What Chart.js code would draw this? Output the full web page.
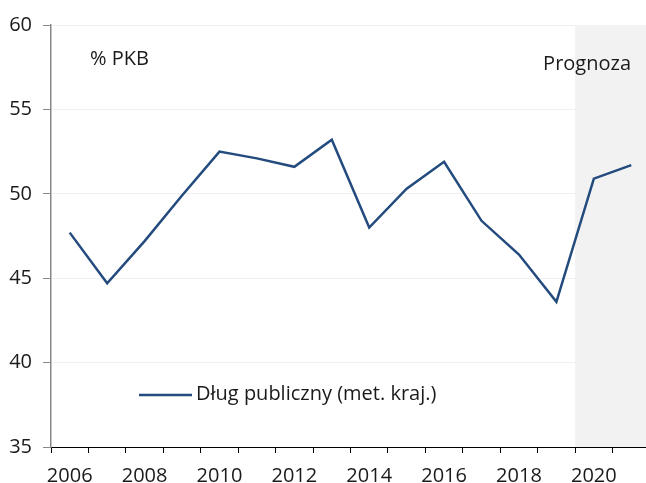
<!DOCTYPE html>
<html lang="pl">
<head>
<meta charset="utf-8">
<title>Dług publiczny</title>
<script src="https://cdn.jsdelivr.net/npm/chart.js@4.4.1/dist/chart.umd.min.js"></script>
<style>
    html, body { margin: 0; padding: 0; background: #fff; overflow: hidden; }
    #kontener { width: 650px; height: 483px; }
</style>
</head>
<body>
<div id="kontener"><canvas id="wykres" width="650" height="483"></canvas></div>
<script>
// lata i dług publiczny (% PKB, metodologia krajowa)
const lata = ['2006', '2007', '2008', '2009', '2010', '2011', '2012', '2013',
              '2014', '2015', '2016', '2017', '2018', '2019', '2020', '2021'];
const dlug = [47.7, 44.7, 47.2, 49.9, 52.5, 52.1, 51.6, 53.2,
              48.0, 50.3, 51.9, 48.4, 46.4, 43.6, 50.9, 51.7];
const ticksY = [35, 40, 45, 50, 55, 60];
const prognozaOd = '2020';

const czcionka = '"Open Sans"';
const kolorLinii = '#234b7e';

// szare tło dla lat prognozy + opisy
const tloPrognozy = {
    id: 'tloPrognozy',
    beforeDatasetsDraw(chart) {
        let ctx = chart.ctx;
        let x = chart.scales.x;
        let area = chart.chartArea;
        let i = lata.indexOf(prognozaOd);
        let start = (x.getPixelForValue(i - 1) + x.getPixelForValue(i)) / 2;
        ctx.save();
        ctx.fillStyle = '#f2f2f2';
        ctx.fillRect(start, area.top, area.right - start, area.bottom - area.top);
        ctx.restore();
    },
    afterDraw(chart) {
        let ctx = chart.ctx;
        ctx.save();
        ctx.fillStyle = '#1a1a1a';
        ctx.font = `20px ${czcionka}`;
        ctx.textBaseline = 'middle';
        ctx.textAlign = 'left';
        ctx.fillText('% PKB', 90, 59);
        ctx.textAlign = 'right';
        ctx.fillText('Prognoza', 631, 64);

        // legenda
        ctx.textAlign = 'left';
        ctx.strokeStyle = kolorLinii;
        ctx.lineWidth = 2.5;
        ctx.beginPath();
        ctx.moveTo(139, 395);
        ctx.lineTo(192, 395);
        ctx.stroke();
        ctx.fillText('Dług publiczny (met. kraj.)', 196, 394);
        ctx.restore();
    }
};

let grafico = new Chart(document.getElementById('wykres'), {
    type: 'line',
    data: {
        labels: lata,
        datasets: [{
            label: 'Dług publiczny (met. kraj.)',
            data: dlug,
            borderColor: kolorLinii,
            borderWidth: 2.5,
            pointRadius: 0,
            tension: 0,
            fill: false
        }]
    },
    options: {
        responsive: false,
        animation: false,
        layout: { padding: { top: 25, right: 0, left: 0, bottom: 0 } },
        plugins: {
            legend: { display: false },
            tooltip: { enabled: false }
        },
        scales: {
            x: {
                offset: true,
                grid: {
                    offset: true,
                    drawOnChartArea: false,
                    tickLength: 6,
                    tickColor: '#000'
                },
                border: { color: '#000', width: 1 },
                ticks: {
                    autoSkip: false,
                    maxRotation: 0,
                    color: '#1a1a1a',
                    font: { family: czcionka, size: 20 },
                    padding: 11,
                    callback: function (v, i) { return i % 2 == 0 ? lata[i] : ''; }
                },
                afterFit: function (s) { s.height = 36; }
            },
            y: {
                min: 35,
                max: 60,
                afterBuildTicks: function (s) { s.ticks = ticksY.map(v => ({ value: v })); },
                grid: {
                    color: '#f0f0f0',
                    tickColor: '#888',
                    tickLength: 8,
                    lineWidth: 1
                },
                border: { color: '#888', width: 1.5 },
                ticks: {
                    color: '#1a1a1a',
                    font: { family: czcionka, size: 20 },
                    padding: 11
                },
                afterFit: function (s) { s.width = 51; }
            }
        }
    },
    plugins: [tloPrognozy]
});
</script>
</body>
</html>
